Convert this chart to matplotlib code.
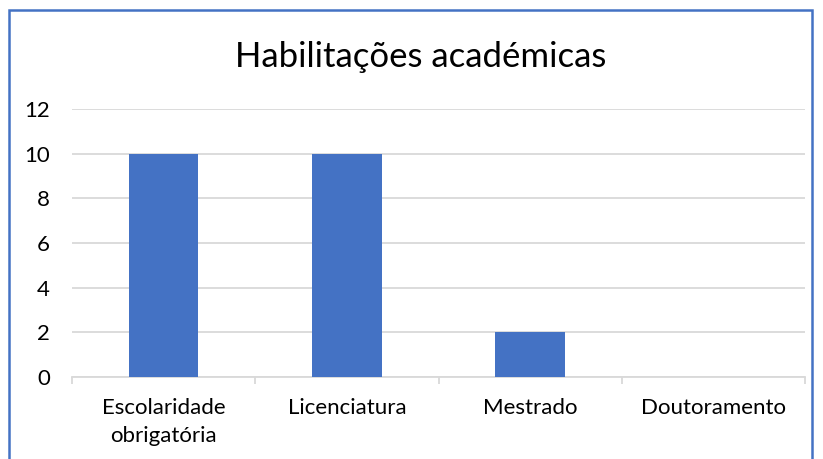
import matplotlib
matplotlib.use("Agg")
import matplotlib.pyplot as plt
from matplotlib.patches import Rectangle

categories = ["Escolaridade\nobrigatória", "Licenciatura", "Mestrado", "Doutoramento"]
values = [10, 10, 2, 0]
yticks = [0, 2, 4, 6, 8, 10, 12]
title = "Habilitações académicas"

plt.rcParams['font.family'] = ['Lato', 'DejaVu Sans']

W, H = 823, 459
fig = plt.figure(figsize=(W/100, H/100), dpi=100)
fig.patch.set_facecolor('white')

ax = fig.add_axes([72/W, 1-377/H, (805-72)/W, (377-109)/H])
x = list(range(len(categories)))
ax.bar(x, values, width=0.38, color='#4472C4', zorder=3)
ax.set_xlim(-0.5, len(categories)-0.5)
ax.set_ylim(0, 12)
ax.set_yticks(yticks)
ax.set_yticklabels([str(v) for v in yticks], fontsize=16, color='#000000')
ax.yaxis.grid(True, color='#D9D9D9', linewidth=1.3, zorder=0)
ax.tick_params(axis='y', length=0, pad=16)
ax.set_xticks(x)
ax.set_xticklabels(categories, fontsize=16, color='#000000', linespacing=1.5)
ax.tick_params(axis='x', length=0, pad=15)
# category boundary ticks
ax.set_xticks([i - 0.5 for i in range(len(categories)+1)], minor=True)
ax.tick_params(axis='x', which='minor', length=5, color='#D9D9D9', width=1.3)
for s in ['left', 'right', 'top']:
    ax.spines[s].set_visible(False)
ax.spines['bottom'].set_color('#D9D9D9')
ax.spines['bottom'].set_linewidth(1.3)

fig.text((236+605)/2/W, 1-57/H, title, ha='center', va='center', fontsize=25, color='#000000')

fig.patches.append(Rectangle((8.5/W, -0.05), (812-8.5)/W, 1-10/H+0.05, transform=fig.transFigure,
                             fill=False, edgecolor='#4472C4', linewidth=1.8))

fig.savefig('out.png', dpi=100)
